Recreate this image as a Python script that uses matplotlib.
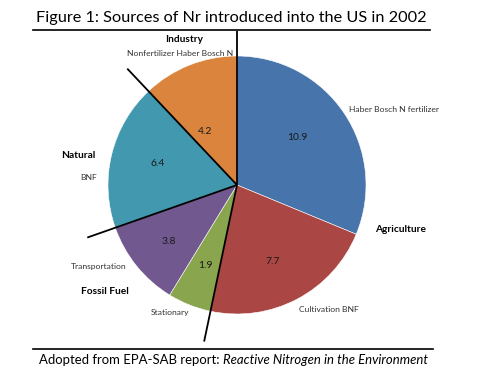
import matplotlib
matplotlib.use("Agg")
import matplotlib.pyplot as plt
import numpy as np

# Data (clockwise from top)
values = [10.9, 7.7, 1.9, 3.8, 6.4, 4.2]
value_labels = ["10.9", "7.7", "1.9", "3.8", "6.4", "4.2"]
sub_labels = ["Haber Bosch N fertilizer", "Cultivation BNF", "Stationary",
              "Transportation", "BNF", "Nonfertilizer Haber Bosch N"]
groups = ["Agriculture", "Fossil Fuel", "Natural", "Industry"]
colors = ["#4674AB", "#AA4644", "#89A54E", "#71588F", "#4198AF", "#DB843D"]

title = "Figure 1: Sources of Nr introduced into the US in 2002"
footer_plain = "Adopted from EPA-SAB report: "
footer_italic = "Reactive Nitrogen in the Environment"

W, H = 500, 375
fig = plt.figure(figsize=(5, 3.75), dpi=100)
ax = fig.add_axes([0, 0, 1, 1])

def Y(y):
    return H - y

cx, cy, R = 237, Y(185), 129
wedges, _ = ax.pie(values, colors=colors, startangle=90, counterclock=False,
                   center=(cx, cy), radius=R, frame=True,
                   wedgeprops=dict(edgecolor="white", linewidth=0.4))
ax.set_xlim(0, W)
ax.set_ylim(0, H)
ax.axis("off")

# Group divider lines along wedge boundaries
cum = np.cumsum([0] + values) / sum(values)
for idx, L in [(0, 1.19), (2, 1.24), (4, 1.23), (5, 1.24)]:
    ang = np.deg2rad(90 - 360 * cum[idx])
    ax.plot([cx, cx + L * R * np.cos(ang)], [cy, cy + L * R * np.sin(ang)],
            color="black", lw=1.3, solid_capstyle="butt", zorder=5)

font = "Lato"
num_pos = [(297, 137), (273, 262), (205, 266), (169, 242), (158, 163), (205, 131)]
for (x, y), t in zip(num_pos, value_labels):
    ax.text(x, Y(y), t, ha="center", va="center", fontsize=7.5, family=font, color="#1a1a1a")

sub_pos = [(349, 109, "left"), (299, 310, "left"), (170, 312, "center"),
           (126, 266, "right"), (89, 177, "center"), (233, 53, "right")]
for (x, y, ha), t in zip(sub_pos, sub_labels):
    ax.text(x, Y(y), t, ha=ha, va="center", fontsize=6.1, family=font, color="#333333")

group_pos = [(401, 229), (105, 291), (78, 156), (184, 40)]
for (x, y), t in zip(group_pos, groups):
    ax.text(x, Y(y), t, ha="center", va="center", fontsize=7.3, family=font,
            fontweight="bold", color="black")

ax.text(231, Y(18), title, ha="center", va="center", fontsize=11.7, family=font, color="black")
ax.plot([33, 430], [Y(30), Y(30)], color="black", lw=1.2)
ax.plot([33, 433], [Y(349), Y(349)], color="black", lw=1.2)

t1 = ax.text(39, Y(360), footer_plain, ha="left", va="center", fontsize=9.45, family=font)
fig.canvas.draw()
bb = t1.get_window_extent()
x2 = bb.x1 / fig.dpi / 5 * W
ax.text(x2, Y(360), footer_italic, ha="left", va="center", fontsize=9.45, family=font, style="italic")

fig.savefig("out.png", dpi=100)
